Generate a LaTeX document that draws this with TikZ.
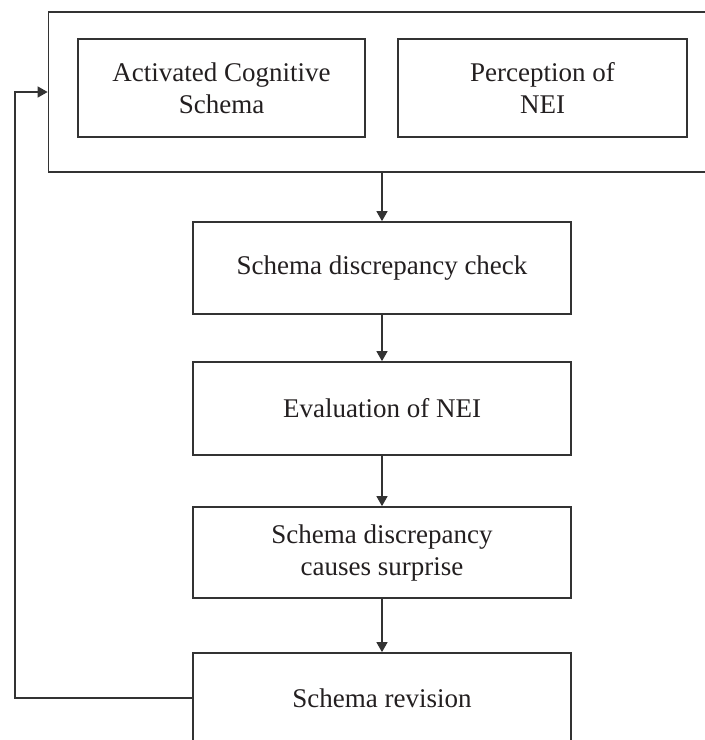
\documentclass[tikz,border=0pt]{standalone}
\usepackage{fontspec}
\setmainfont{Liberation Serif}
\usetikzlibrary{arrows.meta}
\definecolor{ln}{HTML}{333333}
\definecolor{tx}{HTML}{231F20}
\begin{document}
\begin{tikzpicture}[x=1pt,y=-1pt,
  box/.style={draw=ln,line width=1.7pt,rectangle,inner sep=0pt,align=center,text=tx,
    font=\fontsize{27}{32}\selectfont},
  conn/.style={draw=ln,line width=1.4pt,-{Triangle[length=10pt,width=11pt]}}]
\useasboundingbox (0,0) rectangle (705,740);
\fill[white] (0,0) rectangle (705,740);
\node[box,minimum width=671.5pt,minimum height=160pt] (outer) at (384.25,92) {};
\node[box,minimum width=287pt,minimum height=98pt] (acs) at (221.5,88) {Activated Cognitive\\Schema};
\node[box,minimum width=289pt,minimum height=98pt] (per) at (542.5,88) {Perception of\\NEI};
\node[box,minimum width=378pt,minimum height=92pt] (check) at (382,268) {\raisebox{6pt}{Schema discrepancy check}};
\node[box,minimum width=378pt,minimum height=93pt] (eval) at (382,408.5) {Evaluation of NEI};
\node[box,minimum width=378pt,minimum height=91pt] (surp) at (382,552.5) {Schema discrepancy\\causes surprise};
\node[box,minimum width=378pt,minimum height=90pt] (rev) at (382,698) {Schema revision};
\coordinate (fb) at (15,92);
\draw[conn] (check.north |- outer.south) -- (check.north);
\draw[conn] (check) -- (eval);
\draw[conn] (eval) -- (surp);
\draw[conn] (surp) -- (rev);
\draw[conn] (rev.west) -| (fb) -- (outer.west);
\end{tikzpicture}
\end{document}
